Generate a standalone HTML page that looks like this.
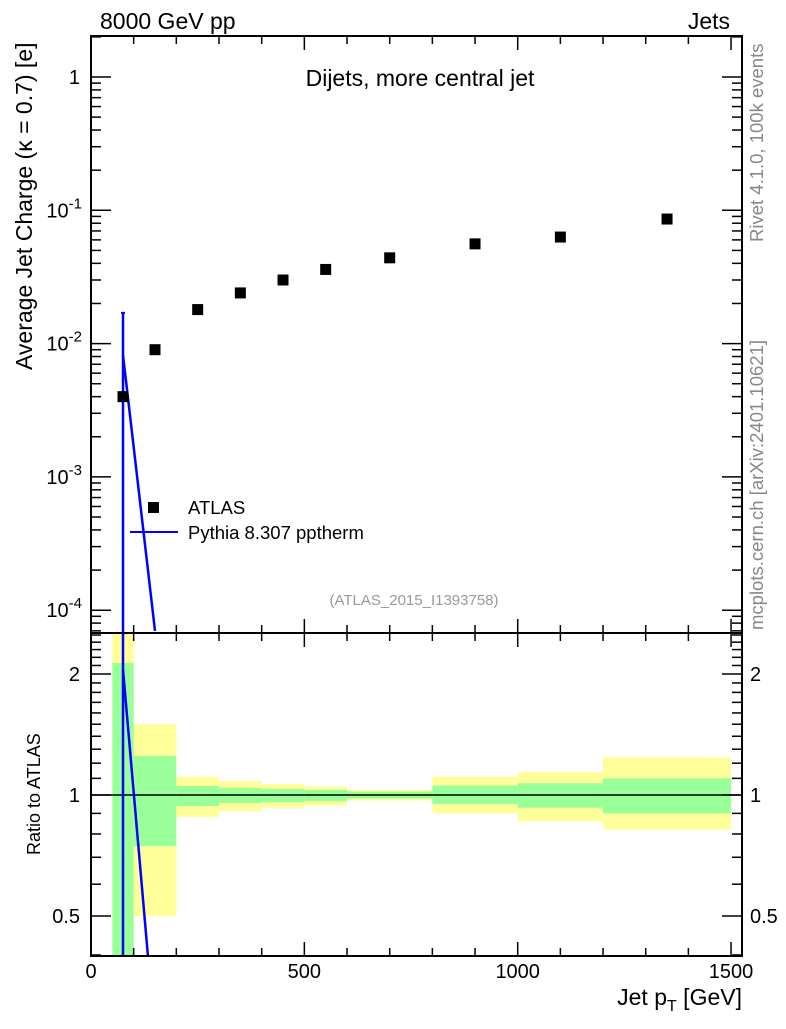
<!DOCTYPE html>
<html><head><meta charset="utf-8"><style>
body{margin:0;background:#fff;}
svg text{font-family:"Liberation Sans",sans-serif;}
</style></head><body>
<svg id="chart" width="786" height="1024" xmlns="http://www.w3.org/2000/svg">
<g id="bands"></g>
<g id="ratioLines"></g>
<g id="marks"></g>
<g id="axes"></g>
<rect x="91" y="36" width="651" height="597" fill="none" stroke="#000" stroke-width="2"/>
<rect x="91" y="633" width="651" height="323" fill="none" stroke="#000" stroke-width="2"/>
<text x="100" y="29" font-size="23">8000 GeV pp</text>
<text x="730" y="29" font-size="23" text-anchor="end">Jets</text>
<text x="420" y="86" font-size="23" text-anchor="middle">Dijets, more central jet</text>
<text x="414" y="605" font-size="15" fill="#999" text-anchor="middle">(ATLAS_2015_I1393758)</text>
<text transform="translate(32,370) rotate(-90)" font-size="23">Average Jet Charge (κ = 0.7) [e]</text>
<text transform="translate(40,855) rotate(-90)" font-size="18">Ratio to ATLAS</text>
<text x="742" y="1005" font-size="23" text-anchor="end">Jet p<tspan font-size="16" dy="6">T</tspan><tspan dy="-6"> [GeV]</tspan></text>
<text transform="translate(763,242) rotate(-90)" font-size="18.5" fill="#888">Rivet 4.1.0,  100k events</text>
<text transform="translate(763,630) rotate(-90)" font-size="18.5" fill="#888">mcplots.cern.ch [arXiv:2401.10621]</text>
<g>
<rect x="148" y="502" width="11" height="11" fill="#000"/>
<text x="188" y="514" font-size="18.5">ATLAS</text>
<line x1="130" y1="532" x2="178" y2="532" stroke="#00f" stroke-width="2"/>
<text x="188" y="539" font-size="18.5">Pythia 8.307 pptherm</text>
</g>
</svg>
<script>
const xVals=[75,150,250,350,450,550,700,900,1100,1350];
const dataVals=[0.004,0.009,0.018,0.024,0.030,0.036,0.044,0.056,0.063,0.086];
const mcX=[75,150];
const mcVals=[0.0082,0.00007];
const mcErrHi=[0.017,0.0001];
const mcRatio=[2.05,0.25];
const binEdges=[50,100,200,300,400,500,600,800,1000,1200,1500];
const yellowHi=[3.0,1.50,1.109,1.083,1.065,1.05,1.03,1.11,1.14,1.24];
const yellowLo=[0.05,0.50,0.882,0.912,0.93,0.94,0.97,0.90,0.86,0.82];
const greenHi=[2.13,1.25,1.053,1.04,1.035,1.03,1.02,1.055,1.07,1.10];
const greenLo=[0.1,0.746,0.939,0.955,0.96,0.965,0.98,0.95,0.93,0.90];
const xTicks=[0,500,1000,1500];
const yTicksMain=[0,-1,-2,-3,-4];
const yTicksRatio=[0.5,1,2];

const NS="http://www.w3.org/2000/svg";
const X=v=>91+v*0.4267;
const Y=v=>77-133.3*Math.log10(v);
const R=v=>795-402*Math.log10(v);
function mk(parent,tag,attrs){const e=document.createElementNS(NS,tag);for(const k in attrs)e.setAttribute(k,attrs[k]);document.getElementById(parent).appendChild(e);return e;}
const clipR=v=>Math.max(633,Math.min(956,v));

for(let i=0;i<binEdges.length-1;i++){
  const x1=X(binEdges[i]),x2=X(binEdges[i+1]);
  let y1=clipR(R(yellowHi[i])),y2=clipR(R(yellowLo[i]));
  let e=mk('bands','rect',{x:x1,y:y1,width:x2-x1,height:y2-y1,fill:'#ffff99'});
  
  
  y1=clipR(R(greenHi[i]));y2=clipR(R(greenLo[i]));
  e=mk('bands','rect',{x:x1,y:y1,width:x2-x1,height:y2-y1,fill:'#99ff99'});
  
  
}
let l=mk('ratioLines','line',{x1:91,x2:742,y1:R(1),y2:R(1),stroke:'#000','stroke-width':1.5});


l=mk('ratioLines','line',{x1:X(mcX[0]),x2:X(mcX[0]),y1:633,y2:956,stroke:'#00f','stroke-width':2.5});


{const xa=X(mcX[0]),ya=R(mcRatio[0]),xb=X(mcX[1]),yb=R(mcRatio[1]);const t=Math.min(1,(956-ya)/(yb-ya));
l=mk('ratioLines','line',{x1:xa,y1:ya,x2:xa+(xb-xa)*t,y2:ya+(yb-ya)*t,stroke:'#00f','stroke-width':2.5});

}
l=mk('marks','line',{x1:X(mcX[0]),x2:X(mcX[0]),y1:Y(mcErrHi[0]),y2:633,stroke:'#00f','stroke-width':2.5});


l=mk('marks','line',{x1:X(mcX[0])-2,x2:X(mcX[0])+2,y1:Y(mcErrHi[0]),y2:Y(mcErrHi[0]),stroke:'#00f','stroke-width':2});


{const xa=X(mcX[0]),ya=Y(mcVals[0]),xb=X(mcX[1]),yb=Y(mcVals[1]);const t=Math.min(1,(633-ya)/(yb-ya));
l=mk('marks','line',{x1:xa,y1:ya,x2:xa+(xb-xa)*t,y2:ya+(yb-ya)*t,stroke:'#00f','stroke-width':2.5});

}
xVals.forEach((x,i)=>{
  const p=mk('marks','rect',{x:X(x)-5.5,y:Y(dataVals[i])-5.5,width:11,height:11,fill:'#000'});
  
  
});
function tick(x1,y1,x2,y2,w){const t=mk('axes','line',{x1,y1,x2,y2,stroke:'#000','stroke-width':w||1.5});}
for(let v=0;v<=1500;v+=100){const big=v%500==0;const x=X(v);const h=big?14:8;
  tick(x,633,x,633-h);tick(x,36,x,36+h);tick(x,956,x,956-h);tick(x,633,x,633+h);}
xTicks.forEach(v=>{const t=mk('axes','text',{x:X(v),y:978,'font-size':20,'text-anchor':'middle'});t.textContent=v;
  });
for(let d=-5;d<=0;d++){for(let m=1;m<10;m++){const v=m*Math.pow(10,d);const y=Y(v);if(y<36||y>633)continue;
  const h=m==1?20:10;tick(91,y,91+h,y);tick(742,y,742-h,y);}}
yTicksMain.forEach(d=>{const y=Y(Math.pow(10,d));
  const t=mk('axes','text',{x:80,y:y+7,'font-size':20,'text-anchor':'end'});
  
  if(d==0){t.textContent='1';}else{t.textContent='10';const s=document.createElementNS(NS,'tspan');s.setAttribute('dy','-9');s.setAttribute('font-size','15');s.textContent=d;t.appendChild(s);t.setAttribute('x',82);}
});
const minorR=[0.4,0.5,0.6,0.7,0.8,0.9,1,1.1,1.2,1.3,1.4,1.5,1.6,1.7,1.8,1.9,2,2.1,2.2,2.3,2.4,2.5];
minorR.forEach(v=>{const y=R(v);if(y<633||y>956)return;const big=yTicksRatio.includes(v);const h=big?20:10;tick(91,y,91+h,y);tick(742,y,742-h,y);});
yTicksRatio.forEach(v=>{const y=R(v);
  let t=mk('axes','text',{x:80,y:y+7,'font-size':20,'text-anchor':'end'});t.textContent=v;
  
  t=mk('axes','text',{x:750,y:y+7,'font-size':20});t.textContent=v;
  });
</script>
</body></html>
